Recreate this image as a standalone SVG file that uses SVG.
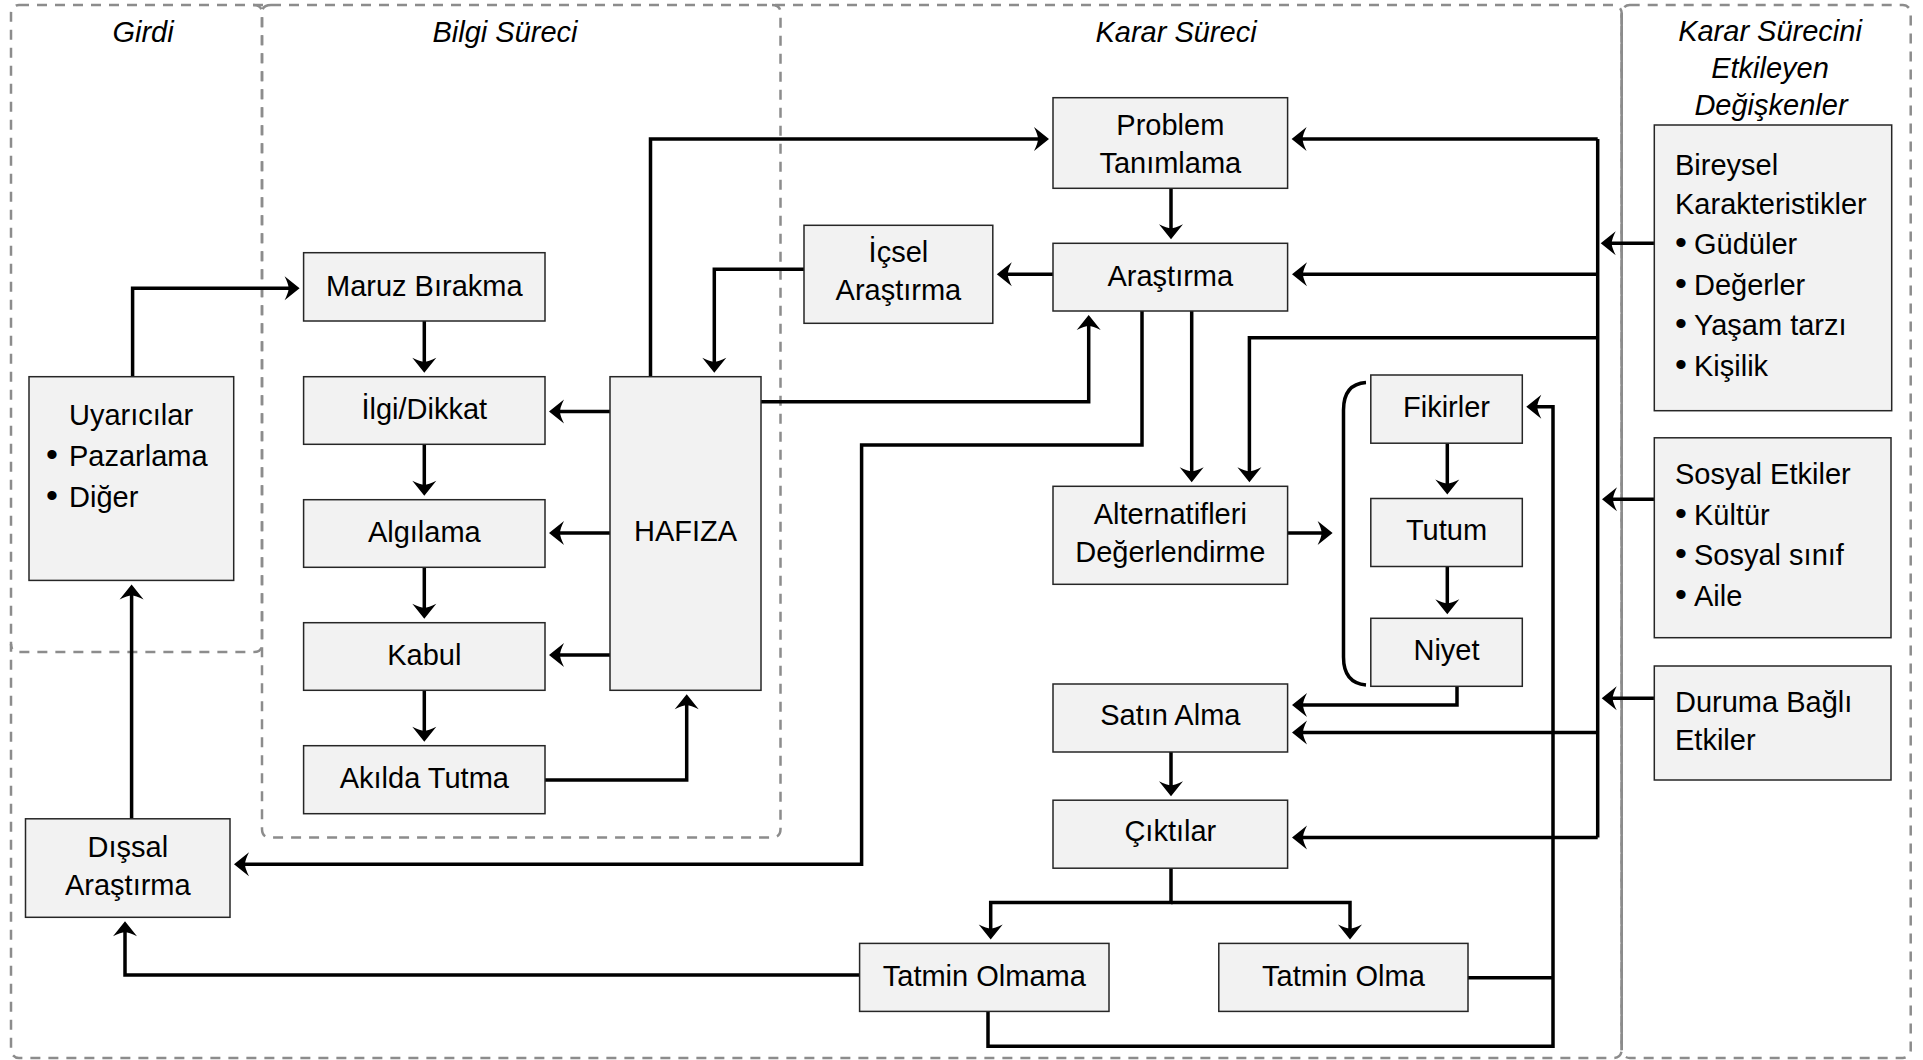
<svg xmlns="http://www.w3.org/2000/svg" width="1923" height="1060" viewBox="0 0 1923 1060">
<style>
.box{fill:#f2f2f2;stroke:#262626;stroke-width:1.5}
.t{font-family:"Liberation Sans",Arial,sans-serif;font-size:29px;fill:#000}
.c{text-anchor:middle}
.it{font-style:italic}
.bul{font-size:34px}
.cn{fill:none;stroke:#000;stroke-width:3.5;stroke-linejoin:miter}
.arr{marker-end:url(#ah)}
.dash{fill:none;stroke:#8c8c8c;stroke-width:2.5;stroke-dasharray:10 8}
.solid{fill:none;stroke:#8c8c8c;stroke-width:2.5}
</style>
<defs>
<marker id="ah" viewBox="-6 -13 17 26" refX="0" refY="0" markerWidth="17" markerHeight="26" markerUnits="userSpaceOnUse" orient="auto">
<path d="M10,0 L-5,-12 Q-1,-4 -1,0 Q-1,4 -5,12 Z" fill="#000"/>
</marker>
</defs>
<rect width="1923" height="1060" fill="#fff"/>

<g id="containers">
<rect class="dash" x="11" y="5" width="1610.7" height="1053" rx="8"/>
<rect class="dash" x="1621.7" y="5" width="289" height="1053" rx="8"/>
<path class="solid" d="M1621.7,13 V1050"/>
<path class="dash" d="M253,5 Q262,5 262,13 V644 Q262,652 254,652 H19 Q11,652 11,644"/>
<path class="dash" d="M271,5 Q262,5 262,13 V829 Q262,837.5 270.5,837.5 H772 Q780.5,837.5 780.5,829 V13 Q780.5,5 772,5"/>
<text class="t c it" x="143" y="41.5">Girdi</text>
<text class="t c it" x="505" y="41.5">Bilgi Süreci</text>
<text class="t c it" x="1176" y="41.5">Karar Süreci</text>
<text class="t c it" x="1770" y="41">Karar Sürecini</text>
<text class="t c it" x="1770" y="78">Etkileyen</text>
<text class="t c it" x="1771" y="115">Değişkenler</text>
</g>

<g id="connectors">
<path class="cn arr" d="M132.6,376.7 V288.3 H289.6"/>
<path class="cn arr" d="M424.3,321 V362.7"/>
<path class="cn arr" d="M424.3,444.3 V485.7"/>
<path class="cn arr" d="M424.3,567.3 V608.7"/>
<path class="cn arr" d="M424.3,690.3 V731.7"/>
<path class="cn arr" d="M545,780 H686.7 V704.3"/>
<path class="cn arr" d="M610,411.5 H559"/>
<path class="cn arr" d="M610,533 H559"/>
<path class="cn arr" d="M610,655 H559"/>
<path class="cn arr" d="M650.5,376.7 V139 H1039"/>
<path class="cn arr" d="M804,269.3 H714.3 V362.7"/>
<path class="cn arr" d="M761,401.7 H1088.7 V325"/>
<path class="cn arr" d="M1171,188.3 V229.3"/>
<path class="cn arr" d="M1053,274.3 H1006.8"/>
<path class="cn arr" d="M1142,311 V445 H861.6 V864.3 H244"/>
<path class="cn arr" d="M1191.7,311 V472.3"/>
<path class="cn" d="M1597.7,139 V837.4"/>
<path class="cn arr" d="M1597.7,139 H1301.6"/>
<path class="cn arr" d="M1597.7,274.3 H1302"/>
<path class="cn arr" d="M1597.7,337.7 H1249.4 V472.3"/>
<path class="cn arr" d="M1597.7,732.6 H1302"/>
<path class="cn arr" d="M1597.7,837.4 H1302"/>
<path class="cn arr" d="M1654.3,243.3 H1610.7"/>
<path class="cn arr" d="M1654.3,499.3 H1612"/>
<path class="cn arr" d="M1654.3,698.3 H1611.7"/>
<path class="cn arr" d="M1288,533 H1322.6"/>
<path class="cn arr" d="M1447.3,443.2 V484.5"/>
<path class="cn arr" d="M1447.3,566.5 V604.3"/>
<path class="cn arr" d="M1457,686.3 V705 H1302"/>
<path class="cn arr" d="M1171,752 V786.2"/>
<path class="cn arr" d="M1171,868.2 V902.6 H990.7 V929.4"/>
<path class="cn arr" d="M1171,902.6 H1350 V929.4"/>
<path class="cn arr" d="M859.6,975 H125 V931.3"/>
<path class="cn arr" d="M988,1011.4 V1046.2 H1553 V406.7 H1536.3"/>
<path class="cn" d="M1468,977.8 H1553"/>
<path class="cn arr" d="M131.6,818.8 V594.4"/>
<path class="cn" d="M1366,382.5 Q1343.5,384 1343.5,410 V657 Q1343.5,683 1366,685"/>
</g>

<g id="n-uyaricilar">
<rect class="box" x="29" y="376.7" width="204.7" height="203.7"/>
<text class="t" x="69" y="425">Uyarıcılar</text>
<text class="t" x="46" y="466"><tspan class="bul">•</tspan><tspan x="69">Pazarlama</tspan></text>
<text class="t" x="46" y="507"><tspan class="bul">•</tspan><tspan x="69">Diğer</tspan></text>
</g>
<g id="n-dissal">
<rect class="box" x="25.5" y="818.8" width="204.5" height="98.5"/>
<text class="t c" x="127.8" y="857">Dışsal</text>
<text class="t c" x="127.8" y="895">Araştırma</text>
</g>
<g id="n-maruz">
<rect class="box" x="303.6" y="252.7" width="241.4" height="68.3"/>
<text class="t c" x="424.3" y="295.5">Maruz Bırakma</text>
</g>
<g id="n-ilgi">
<rect class="box" x="303.6" y="376.7" width="241.4" height="67.6"/>
<text class="t c" x="424.3" y="419">İlgi/Dikkat</text>
</g>
<g id="n-algilama">
<rect class="box" x="303.6" y="499.7" width="241.4" height="67.6"/>
<text class="t c" x="424.3" y="542">Algılama</text>
</g>
<g id="n-kabul">
<rect class="box" x="303.6" y="622.7" width="241.4" height="67.6"/>
<text class="t c" x="424.3" y="665">Kabul</text>
</g>
<g id="n-akilda">
<rect class="box" x="303.6" y="745.7" width="241.4" height="68"/>
<text class="t c" x="424.3" y="788">Akılda Tutma</text>
</g>
<g id="n-hafiza">
<rect class="box" x="610" y="376.7" width="151" height="313.6"/>
<text class="t c" x="685.5" y="541">HAFIZA</text>
</g>
<g id="n-problem">
<rect class="box" x="1053" y="97.7" width="234.6" height="90.6"/>
<text class="t c" x="1170.3" y="135">Problem</text>
<text class="t c" x="1170.3" y="173">Tanımlama</text>
</g>
<g id="n-arastirma">
<rect class="box" x="1053" y="243.3" width="234.6" height="67.7"/>
<text class="t c" x="1170.3" y="285.5">Araştırma</text>
</g>
<g id="n-icsel">
<rect class="box" x="804" y="225.3" width="188.8" height="98"/>
<text class="t c" x="898.4" y="262">İçsel</text>
<text class="t c" x="898.4" y="300">Araştırma</text>
</g>
<g id="n-alternatif">
<rect class="box" x="1053" y="486.3" width="234.6" height="98"/>
<text class="t c" x="1170.3" y="523.5">Alternatifleri</text>
<text class="t c" x="1170.3" y="562">Değerlendirme</text>
</g>
<g id="n-fikirler">
<rect class="box" x="1370.8" y="375" width="151.5" height="68.2"/>
<text class="t c" x="1446.5" y="416.7">Fikirler</text>
</g>
<g id="n-tutum">
<rect class="box" x="1370.8" y="498.5" width="151.5" height="68"/>
<text class="t c" x="1446.5" y="540">Tutum</text>
</g>
<g id="n-niyet">
<rect class="box" x="1370.8" y="618.3" width="151.5" height="68"/>
<text class="t c" x="1446.5" y="660">Niyet</text>
</g>
<g id="n-satin">
<rect class="box" x="1053" y="684" width="234.6" height="68"/>
<text class="t c" x="1170.3" y="725">Satın Alma</text>
</g>
<g id="n-ciktilar">
<rect class="box" x="1053" y="800.2" width="234.6" height="68"/>
<text class="t c" x="1170.3" y="841.3">Çıktılar</text>
</g>
<g id="n-tatminolmama">
<rect class="box" x="859.6" y="943.4" width="249.4" height="68"/>
<text class="t c" x="984.3" y="986">Tatmin Olmama</text>
</g>
<g id="n-tatminolma">
<rect class="box" x="1218.8" y="943.4" width="249.2" height="68"/>
<text class="t c" x="1343.4" y="986">Tatmin Olma</text>
</g>
<g id="n-bireysel">
<rect class="box" x="1654.3" y="125" width="237.4" height="285.7"/>
<text class="t" x="1675" y="175">Bireysel</text>
<text class="t" x="1675" y="213.5">Karakteristikler</text>
<text class="t" x="1675" y="254"><tspan class="bul">•</tspan><tspan x="1694">Güdüler</tspan></text>
<text class="t" x="1675" y="294.5"><tspan class="bul">•</tspan><tspan x="1694">Değerler</tspan></text>
<text class="t" x="1675" y="335"><tspan class="bul">•</tspan><tspan x="1694">Yaşam tarzı</tspan></text>
<text class="t" x="1675" y="375.5"><tspan class="bul">•</tspan><tspan x="1694">Kişilik</tspan></text>
</g>
<g id="n-sosyal">
<rect class="box" x="1654.3" y="437.8" width="236.7" height="199.9"/>
<text class="t" x="1675" y="484">Sosyal Etkiler</text>
<text class="t" x="1675" y="524.5"><tspan class="bul">•</tspan><tspan x="1694">Kültür</tspan></text>
<text class="t" x="1675" y="565"><tspan class="bul">•</tspan><tspan x="1694">Sosyal sınıf</tspan></text>
<text class="t" x="1675" y="605.5"><tspan class="bul">•</tspan><tspan x="1694">Aile</tspan></text>
</g>
<g id="n-duruma">
<rect class="box" x="1654.3" y="666" width="236.7" height="114"/>
<text class="t" x="1675" y="711.7">Duruma Bağlı</text>
<text class="t" x="1675" y="750">Etkiler</text>
</g>
</svg>
